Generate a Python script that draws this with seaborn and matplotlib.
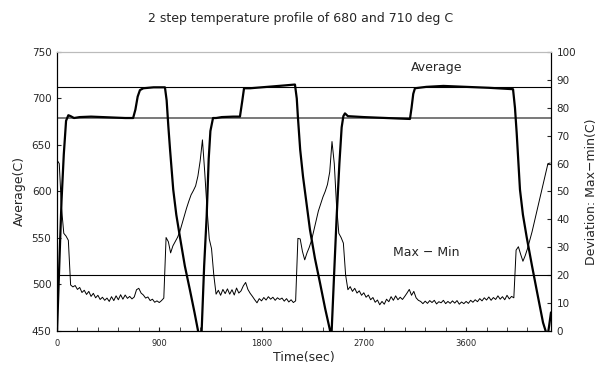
import numpy as np
import pandas as pd
import matplotlib
matplotlib.use("Agg")
import matplotlib.pyplot as plt
from matplotlib.ticker import MultipleLocator
import seaborn as sns

# 平均温度 (左軸) - 読み取り値
avg_time = [0, 20, 40, 60, 80, 100, 120, 150, 200, 300, 400, 500, 600, 670, 690, 710, 730, 760,
            850, 950, 965, 980, 995, 1023, 1050, 1082, 1125, 1170, 1210, 1240, 1255, 1273, 1295,
            1317, 1335, 1350, 1373, 1400, 1450, 1550, 1610, 1630, 1646, 1700, 1800, 1900, 2000,
            2094, 2110, 2120, 2140, 2165, 2226, 2270, 2314, 2360, 2402, 2410, 2417, 2440, 2461,
            2485, 2505, 2520, 2534, 2560, 2700, 2900, 3000, 3106, 3120, 3135, 3150, 3250, 3400,
            3600, 3800, 4013, 4030, 4045, 4074, 4100, 4133, 4180, 4221, 4277, 4300, 4315, 4330, 4347]
avg_temp = [448, 520, 590, 640, 676, 682, 681, 679, 680, 680.5, 680, 679.5, 679, 679, 688, 702, 709, 711,
            712, 712, 698, 670, 645, 602, 575, 551, 520, 494, 470, 451, 442, 450, 520,
            573, 635, 665, 679, 679, 680, 680.5, 680.5, 697, 711, 711, 712, 713, 714,
            715, 700, 680, 645, 616, 559, 528, 502, 474, 451, 444, 450, 515, 573,
            630, 669, 681, 684, 681, 680, 679, 678.5, 678, 690, 705, 711, 712.5, 713.5,
            712.5, 711.5, 710, 690, 663, 602, 575, 551, 520, 494, 459, 450, 443, 455, 470]

# Max - Min (右軸), 20秒ごと
dev_step = 20
dev_vals = [61.3, 60.0, 44.0, 35.0, 34.0, 32.5, 16.5,
            15.8, 16.3, 14.9, 15.6, 13.8, 14.6, 13.1, 14.2, 12.4, 13.5, 11.9, 12.8, 11.3, 12.1,
            11.0, 11.8, 10.6, 12.3, 10.9, 12.6, 11.2, 13.0, 11.4, 12.9, 11.7, 12.4, 11.5, 12.2,
            14.8, 15.3, 13.6, 12.9, 11.8, 12.2, 10.9, 11.4, 10.3, 10.8, 10.2, 10.9, 11.8,
            33.5, 32.0, 28.0, 30.5, 32.0, 33.5, 35.5, 38.3, 41.0, 44.0, 46.5, 48.8, 50.3, 52.0,
            55.5, 61.0, 68.5, 57.0, 44.0, 33.0, 29.5, 20.0, 13.2,
            14.6, 12.8, 14.9, 13.4, 15.1, 13.2, 14.8, 12.9, 15.4, 13.6, 14.4, 16.2, 17.4, 14.9,
            13.5, 12.4, 11.2, 10.1, 11.6, 10.8, 12.0, 11.1, 12.3, 11.4, 12.1, 11.0, 11.9, 11.3,
            11.8, 10.7, 11.6, 10.4, 11.2, 10.2, 10.8,
            33.2, 33.0, 28.5, 25.5, 28.0, 30.0, 32.5, 36.0, 39.5, 43.0, 45.5, 48.0, 50.0, 52.5,
            57.0, 67.9, 60.0, 45.0, 35.0, 33.5, 31.5, 20.0,
            14.8, 15.9, 14.2, 15.3, 13.6, 14.4, 12.8, 13.7, 12.1, 12.9, 11.2, 12.0, 10.3, 11.1,
            9.4, 10.6, 9.6, 11.4, 10.5, 12.3, 11.0, 12.6, 11.2, 12.1, 11.3, 12.4, 13.6, 14.9,
            12.8, 14.2, 11.9, 11.0, 10.6, 9.8, 10.7, 9.9, 10.9, 10.2, 11.0, 9.7, 10.5, 10.1,
            11.0, 9.8, 10.6, 9.9, 10.8, 10.0, 10.9, 9.6, 10.4, 9.8, 10.6, 9.9, 11.0, 10.3,
            11.2, 10.5, 11.6, 10.8, 11.9, 11.1, 12.2, 11.0, 12.0, 11.3, 12.6, 11.4, 12.3, 11.2,
            12.8, 11.5, 12.4, 11.9,
            29.0, 30.2, 27.5, 25.0, 27.0, 29.5, 32.5, 35.5, 39.0, 42.5, 46.0, 49.5, 53.0, 56.5,
            60.0, 60.2]
dev_time = [i * dev_step for i in range(len(dev_vals))]

avg_refs = [712, 679]
dev_ref = 20

sns.set_style("ticks")
plt.rcParams['font.family'] = ['DejaVu Sans']

fig = plt.figure(figsize=(6.01, 3.70), dpi=100)
ax = fig.add_axes([0.0948, 0.1054, 0.822, 0.7541])
ax2 = ax.twinx()

df_avg = pd.DataFrame({"t": avg_time, "v": avg_temp})
df_dev = pd.DataFrame({"t": dev_time, "v": dev_vals})

ax.axhline(avg_refs[0], color="black", lw=0.8)
ax.axhline(avg_refs[1], color="#555555", lw=1.1)
ax2.axhline(dev_ref, color="black", lw=0.8)

sns.lineplot(data=df_avg, x="t", y="v", ax=ax, color="black", lw=1.6, sort=False)
sns.lineplot(data=df_dev, x="t", y="v", ax=ax2, color="black", lw=0.7, sort=False)

ax.set_xlim(0, 4347)
ax.set_ylim(450, 750)
ax2.set_ylim(0, 100)
ax.xaxis.set_major_locator(MultipleLocator(900))
ax.xaxis.set_minor_locator(MultipleLocator(180))
ax.yaxis.set_major_locator(MultipleLocator(50))
ax2.yaxis.set_major_locator(MultipleLocator(10))

ax.tick_params(axis="x", which="both", direction="in", length=3, labelsize=6, pad=6)
ax.tick_params(axis="y", direction="in", length=3, labelsize=7.5, pad=4)
ax2.tick_params(axis="y", direction="in", length=3, labelsize=7.5, pad=4)

for a in (ax, ax2):
    a.spines["top"].set_color("#bbbbbb")
    a.spines["left"].set_color("black")
    a.spines["right"].set_color("black")
    a.spines["bottom"].set_color("black")

ax.set_xlabel("Time(sec)", fontsize=9, labelpad=2)
ax.set_ylabel("Average(C)", fontsize=9, labelpad=4)
ax2.set_ylabel("Deviation: Max\u2212min(C)", fontsize=9, labelpad=6)

ax.text(0.769, 0.943, "Average", transform=ax.transAxes, ha="center", va="center", fontsize=9)
ax.text(0.747, 0.28, "Max \u2212 Min", transform=ax.transAxes, ha="center", va="center", fontsize=9)

fig.suptitle("2 step temperature profile of 680 and 710 deg C", fontsize=9, y=0.968)

fig.savefig("out.png", dpi=100)
plt.close(fig)
